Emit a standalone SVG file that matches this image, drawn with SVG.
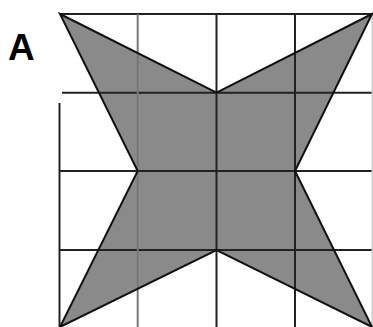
<svg xmlns="http://www.w3.org/2000/svg" width="373" height="327" viewBox="0 0 373 327">
<style>
.g{stroke:#222;stroke-width:2;fill:none}
.gl{stroke:#777;stroke-width:2;fill:none}
.gf{stroke:#ccc;stroke-width:1.5;fill:none}
.star{fill:#8a8a8a;stroke:none}
.out{fill:none;stroke:#111;stroke-width:2;stroke-linejoin:miter}
text{font-family:"Liberation Sans",Arial,sans-serif;font-weight:bold;font-size:37px;fill:#000}
</style>
<rect width="373" height="327" fill="#fff"/>
<polygon class="star" points="60,14 216.5,92.7 372,14 295,171 372,327 216.5,250 60,327 137.7,171"/>
<g id="grid">
<line class="g" x1="60" y1="14" x2="372" y2="14"/>
<line class="g" x1="62" y1="92.7" x2="372" y2="92.7"/>
<line class="g" x1="59" y1="171" x2="372" y2="171"/>
<line class="g" x1="59" y1="250" x2="372" y2="250"/>
<line class="g" x1="59.5" y1="103" x2="59.5" y2="327"/>
<line class="gl" x1="137.7" y1="14" x2="137.7" y2="327"/>
<line class="g" x1="216.5" y1="14" x2="216.5" y2="327"/>
<line class="g" x1="295" y1="14" x2="295" y2="327"/>
<line class="gf" x1="372.3" y1="14" x2="372.3" y2="327"/>
</g>
<polygon class="out" points="60,14 216.5,92.7 372,14 295,171 372,327 216.5,250 60,327 137.7,171"/>
<text x="8" y="60">A</text>
</svg>
